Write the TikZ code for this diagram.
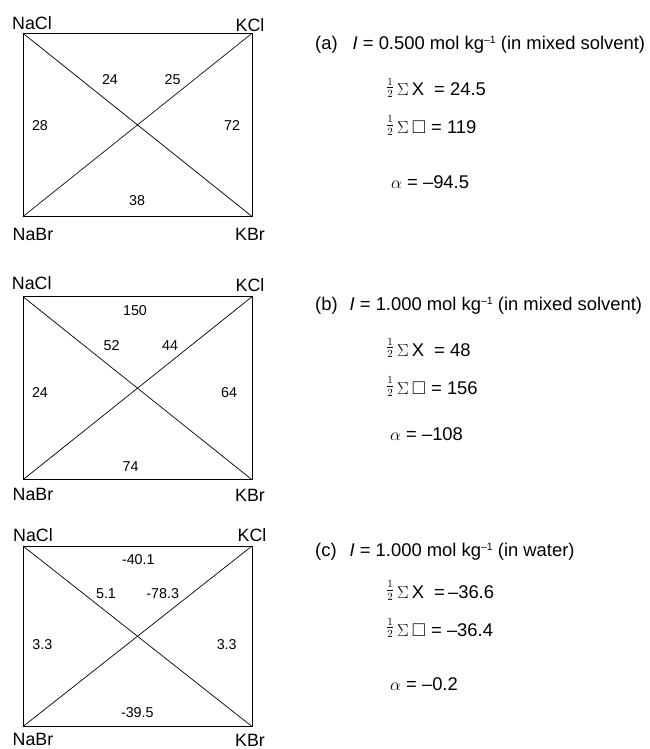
\documentclass[tikz,border=0pt]{standalone}
\usepackage[no-math]{fontspec}
\setmainfont{Liberation Sans}
\usepackage{amssymb}
\usetikzlibrary{positioning}
\newcommand{\halfsum}{\raisebox{4pt}{\fontsize{16}{16}\selectfont$\frac{1}{2}$}\,$\Sigma$\,}
\newcommand{\ionic}{\textit{I}}
\newcommand{\perkg}{kg\raisebox{6pt}{\fontsize{10.5}{10.5}\selectfont–1}}

\begin{document}
\begin{tikzpicture}[x=1pt, y=-1pt,
  frame/.style={line width=1pt},
  diag/.style={line width=0.7pt},
  salt/.style={inner sep=0pt, font=\fontsize{17.8}{20}\selectfont},
  val/.style={inner sep=0pt, font=\fontsize{14.3}{17}\selectfont},
  note/.style={inner sep=0pt, anchor=base west, font=\fontsize{18.4}{22}\selectfont}
]
\useasboundingbox (0,0) rectangle (649,749);

% (a)
\coordinate (a-nacl) at (23,33.3);
\coordinate (a-kcl) at (252,33.3);
\coordinate (a-nabr) at (23,216.5);
\coordinate (a-kbr) at (252,216.5);
\draw[frame] (a-nacl) -- (a-kcl) -- (a-kbr) -- (a-nabr) -- cycle;
\draw[diag] (a-nacl) -- (a-kbr);
\draw[diag] (a-nabr) -- (a-kcl);
\node[salt] (a-lnacl) at (32,22.7) {NaCl};
\node[salt] (a-lkcl) at (250,25.3) {KCl};
\node[salt] (a-lnabr) at (33,234) {NaBr};
\node[salt] (a-lkbr) at (250,234) {KBr};
\node[val] (a-v1) at (110,80) {24};
\node[val] (a-v2) at (172.7,80) {25};
\node[val] (a-v3) at (40,126) {28};
\node[val] (a-v4) at (232,126) {72};
\node[val] (a-v5) at (137,201) {38};
\node[note] (a-head) at (315,49.3) {(a)\hspace{15pt}\ionic{} = 0.500 mol \perkg{} (in mixed solvent)};
\node[note] (a-sx) at (386,96) {\halfsum X\ \ = 24.5};
\node[note] (a-sb) at (386,133.3) {\halfsum$\square$ = 119};
\node[note] (a-al) at (391,188.3) {$\alpha$ = –94.5};

% (b)
\coordinate (b-nacl) at (23,296.7);
\coordinate (b-kcl) at (252,296.7);
\coordinate (b-nabr) at (23,479.7);
\coordinate (b-kbr) at (252,479.7);
\draw[frame] (b-nacl) -- (b-kcl) -- (b-kbr) -- (b-nabr) -- cycle;
\draw[diag] (b-nacl) -- (b-kbr);
\draw[diag] (b-nabr) -- (b-kcl);
\node[salt] (b-lnacl) at (31.7,283.3) {NaCl};
\node[salt] (b-lkcl) at (250,285) {KCl};
\node[salt] (b-lnabr) at (33,494) {NaBr};
\node[salt] (b-lkbr) at (250,495.7) {KBr};
\node[val] (b-v1) at (135,311) {150};
\node[val] (b-v2) at (111.7,346) {52};
\node[val] (b-v3) at (170,346) {44};
\node[val] (b-v4) at (40,392.3) {24};
\node[val] (b-v5) at (229,392.3) {64};
\node[val] (b-v6) at (130.7,466.7) {74};
\node[note] (b-head) at (315,310) {(b)\hspace{12pt}\ionic{} = 1.000 mol \perkg{} (in mixed solvent)};
\node[note] (b-sx) at (386,356) {\halfsum X\ \ = 48};
\node[note] (b-sb) at (386,394.3) {\halfsum$\square$ = 156};
\node[note] (b-al) at (390,440.7) {$\alpha$ = –108};

% (c)
\coordinate (c-nacl) at (23,546);
\coordinate (c-kcl) at (252,546);
\coordinate (c-nabr) at (23,726.5);
\coordinate (c-kbr) at (252,726.5);
\draw[frame] (c-nacl) -- (c-kcl) -- (c-kbr) -- (c-nabr) -- cycle;
\draw[diag] (c-nacl) -- (c-kbr);
\draw[diag] (c-nabr) -- (c-kcl);
\node[salt] (c-lnacl) at (33,535) {NaCl};
\node[salt] (c-lkcl) at (252,535) {KCl};
\node[salt] (c-lnabr) at (33,739.8) {NaBr};
\node[salt] (c-lkbr) at (250,740.5) {KBr};
\node[val] (c-v1) at (138.3,560) {-40.1};
\node[val] (c-v2) at (106,593.3) {5.1};
\node[val] (c-v3) at (162.7,593.3) {-78.3};
\node[val] (c-v4) at (42.3,644.3) {3.3};
\node[val] (c-v5) at (226.7,644.3) {3.3};
\node[val] (c-v6) at (137.3,712.7) {-39.5};
\node[note] (c-head) at (315,556) {(c)\hspace{13pt}\ionic{} = 1.000 mol \perkg{} (in water)};
\node[note] (c-sx) at (386,598.3) {\halfsum X\ \ =\,–36.6};
\node[note] (c-sb) at (386,636) {\halfsum$\square$ = –36.4};
\node[note] (c-al) at (390,690.7) {$\alpha$ = –0.2};
\end{tikzpicture}
\end{document}
